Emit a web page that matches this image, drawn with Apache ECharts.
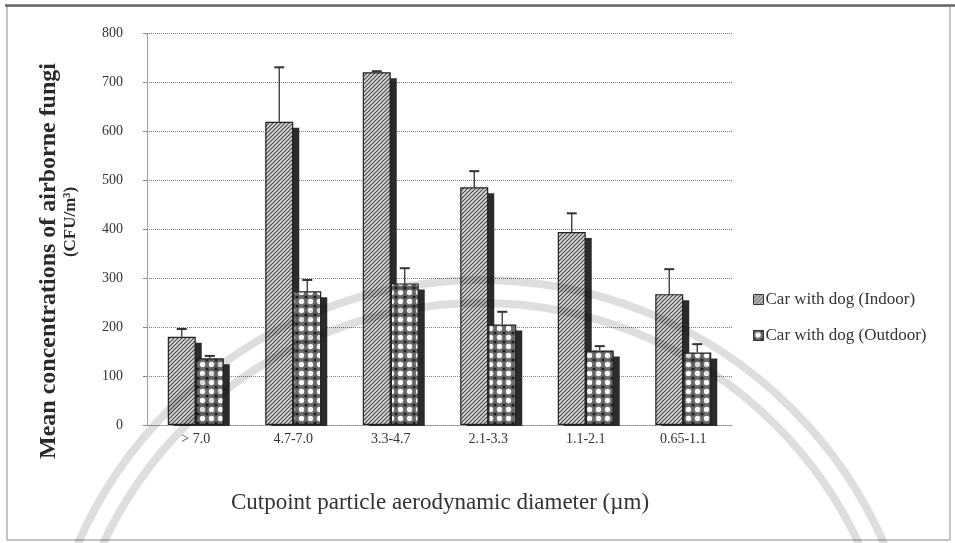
<!DOCTYPE html>
<html>
<head>
<meta charset="utf-8">
<script src="https://cdn.jsdelivr.net/npm/echarts@6/dist/echarts.min.js"></script>
<style>
  html, body { margin: 0; padding: 0; background: #fff; }
  #chart { width: 955px; height: 543px; }
</style>
</head>
<body>
<div id="chart"></div>
<script>
// Cutpoint size classes (µm)
const categories = ['> 7.0', '4.7-7.0', '3.3-4.7', '2.1-3.3', '1.1-2.1', '0.65-1.1'];
// Mean concentrations (CFU/m³)
const indoorMean = [180, 619, 720, 485, 394, 267];
const outdoorMean = [136, 273, 289, 205, 152, 148];
// Upper error (SD)
const indoorErr = [16, 111, 2, 33, 38, 51];
const outdoorErr = [5, 23, 31, 26, 9, 17];
const yTicks = [0, 100, 200, 300, 400, 500, 600, 700, 800];

const seriesNames = ['Car with dog (Indoor)', 'Car with dog (Outdoor)'];
const SERIF = '"Liberation Serif", "Times New Roman", serif';
const BAR_W = 28;
const SHADOW = 6;

// Diagonal hatch fill
function hatchPattern() {
  const c = document.createElement('canvas');
  c.width = 4; c.height = 4;
  const g = c.getContext('2d');
  g.fillStyle = '#dcdcdc';
  g.fillRect(0, 0, 4, 4);
  g.strokeStyle = '#474747';
  g.lineWidth = 1.2;
  g.beginPath();
  g.moveTo(-1, 5); g.lineTo(5, -1);
  g.moveTo(-1, 1); g.lineTo(1, -1);
  g.moveTo(3, 5); g.lineTo(5, 3);
  g.stroke();
  return c;
}
// Dotted grid fill
function dotPattern() {
  const c = document.createElement('canvas');
  c.width = 9; c.height = 9;
  const g = c.getContext('2d');
  g.fillStyle = '#6a6a6a';
  g.fillRect(0, 0, 9, 9);
  g.fillStyle = '#fafafa';
  g.beginPath(); g.arc(4.5, 4.5, 2.7, 0, Math.PI * 2); g.fill();
  g.fillStyle = '#1e1e1e';
  [[0, 0], [9, 0], [0, 9], [9, 9]].forEach(([x, y]) => {
    g.beginPath(); g.arc(x, y, 1.6, 0, Math.PI * 2); g.fill();
  });
  return c;
}

const fills = [
  { image: hatchPattern(), repeat: 'repeat' },
  { image: dotPattern(), repeat: 'repeat' }
];

// side offset of a bar within its category pair
function barOffset(idx) { return idx === 0 ? -BAR_W / 2 : BAR_W / 2; }

function barSeries(idx, data) {
  return {
    name: seriesNames[idx],
    type: 'bar',
    data: data,
    barWidth: BAR_W,
    barGap: '0%',
    z: 3,
    itemStyle: { color: fills[idx], borderColor: '#222', borderWidth: 1.2 }
  };
}

// solid drop shadow to the right of each bar
function shadowSeries(idx, means) {
  return {
    type: 'custom',
    z: 2,
    silent: true,
    data: means.map((m, i) => [i, m]),
    renderItem: function (params, api) {
      const top = api.coord([api.value(0), api.value(1)]);
      const base = api.coord([api.value(0), 0]);
      const x = top[0] + barOffset(idx) - BAR_W / 2 + SHADOW;
      return {
        type: 'rect',
        shape: { x: x, y: top[1] + SHADOW, width: BAR_W, height: base[1] - top[1] - SHADOW + 1 },
        style: { fill: '#2b2b2b' }
      };
    }
  };
}

function errorSeries(idx, means, errs) {
  return {
    type: 'custom',
    z: 4,
    silent: true,
    data: means.map((m, i) => [i, m, errs[i]]),
    renderItem: function (params, api) {
      const i = api.value(0), m = api.value(1), e = api.value(2);
      const base = api.coord([i, m]);
      const top = api.coord([i, m + e]);
      const x = base[0] + barOffset(idx);
      return {
        type: 'group',
        children: [
          { type: 'line', shape: { x1: x, y1: base[1], x2: x, y2: top[1] }, style: { stroke: '#333', lineWidth: 1.3 } },
          { type: 'line', shape: { x1: x - 5, y1: top[1], x2: x + 5, y2: top[1] }, style: { stroke: '#333', lineWidth: 2 } }
        ]
      };
    }
  };
}

const chart = echarts.init(document.getElementById('chart'), null, { renderer: 'canvas' });

chart.setOption({
  backgroundColor: '#fff',
  animation: false,
  grid: { left: 147, right: 223, top: 33, bottom: 118 },
  legend: {
    data: seriesNames,
    orient: 'vertical',
    left: 748,
    top: 286,
    itemWidth: 10,
    itemHeight: 10,
    itemGap: 19,
    icon: 'rect',
    itemStyle: { borderColor: '#333', borderWidth: 1 },
    textStyle: { fontFamily: SERIF, fontSize: 17, color: '#333', padding: [0, 0, 0, -3] }
  },
  xAxis: {
    type: 'category',
    data: categories,
    axisLine: { show: true, lineStyle: { color: '#8a8a8a', type: 'dotted', width: 1 } },
    axisTick: { show: false },
    axisLabel: { fontFamily: SERIF, fontSize: 14, color: '#333', margin: 7 }
  },
  yAxis: {
    type: 'value',
    min: yTicks[0],
    max: yTicks[yTicks.length - 1],
    interval: yTicks[1] - yTicks[0],
    axisLine: { show: true, lineStyle: { color: '#8a8a8a', type: 'dotted', width: 1 } },
    axisTick: { show: true, length: 4, lineStyle: { color: '#8a8a8a' } },
    axisLabel: { fontFamily: SERIF, fontSize: 14, color: '#333', margin: 24 },
    splitLine: { show: true, lineStyle: { color: '#7a7a7a', type: 'dotted', width: 1 } }
  },
  series: [
    barSeries(0, indoorMean),
    barSeries(1, outdoorMean),
    shadowSeries(0, indoorMean),
    shadowSeries(1, outdoorMean),
    errorSeries(0, indoorMean, indoorErr),
    errorSeries(1, outdoorMean, outdoorErr)
  ],
  graphic: [
    // outer frame
    { type: 'rect', z: 0, silent: true, shape: { x: 7, y: 6, width: 943, height: 534 },
      style: { fill: 'none', stroke: '#8a8a8a', lineWidth: 1 } },
    { type: 'line', z: 0, silent: true, shape: { x1: 5, y1: 5.5, x2: 955, y2: 5.5 },
      style: { stroke: '#666', lineWidth: 2.5 } },
    // faint seal rings
    { type: 'circle', z: 100, silent: true, shape: { cx: 481, cy: 720, r: 440 },
      style: { fill: 'none', stroke: 'rgba(0,0,0,0.13)', lineWidth: 8 } },
    { type: 'circle', z: 100, silent: true, shape: { cx: 481, cy: 720, r: 417 },
      style: { fill: 'none', stroke: 'rgba(0,0,0,0.13)', lineWidth: 8 } },
    // axis titles
    { type: 'text', silent: true, x: 49, y: 261, rotation: Math.PI / 2, z: 10,
      style: { text: 'Mean concentrations of airborne fungi', fontFamily: SERIF, fontWeight: 'bold',
        fontSize: 24, fill: '#2a2a2a', align: 'center', verticalAlign: 'middle' } },
    { type: 'text', silent: true, x: 71, y: 222, rotation: Math.PI / 2, z: 10,
      style: { text: '(CFU/m³)', fontFamily: SERIF, fontWeight: 'bold',
        fontSize: 17, fill: '#2a2a2a', align: 'center', verticalAlign: 'middle' } },
    { type: 'text', silent: true, x: 440, y: 503, z: 10,
      style: { text: 'Cutpoint particle aerodynamic diameter (µm)', fontFamily: SERIF,
        fontSize: 23, fill: '#333', align: 'center', verticalAlign: 'middle' } }
  ]
});
</script>
</body>
</html>
